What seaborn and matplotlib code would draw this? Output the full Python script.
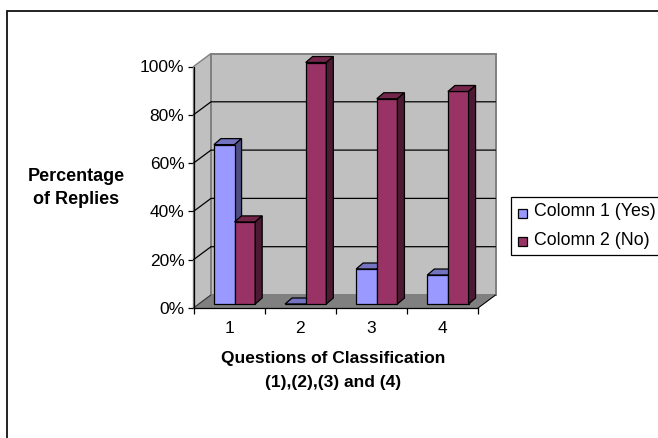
import matplotlib
matplotlib.use('Agg')
import matplotlib.pyplot as plt
from matplotlib.patches import Polygon, Rectangle
from matplotlib.ticker import PercentFormatter
import pandas as pd
import seaborn as sns

preguntas = ['1', '2', '3', '4']
col_si = [66, 0, 14.5, 12]
col_no = [34, 100, 85, 88]
nombres = ['Colomn 1 (Yes)', 'Colomn 2 (No)']
colores = ['#9999FF', '#993366']
oscuros = ['#4D4D80', '#4D1A33']
medios = ['#7373BF', '#732649']

W, H = 658, 438
X0, X1 = 193.5, 478.0   # plano frontal en pixeles
Y0, Y1 = 308.0, 66.5
DX, DY = 17.5, 13.0     # profundidad de las paredes

sns.set_theme(style='white')
plt.rcParams['font.family'] = ['Liberation Sans', 'DejaVu Sans']

df = pd.DataFrame({
    'pregunta': preguntas * 2,
    'serie': [nombres[0]] * 4 + [nombres[1]] * 4,
    'valor': col_si + col_no,
})

fig = plt.figure(figsize=(W / 100, H / 100), dpi=100)
fig.add_artist(Rectangle((6.5 / W, -0.01), 1, 1 - 11 / H + 0.01, transform=fig.transFigure,
                         fill=False, ec='#111111', lw=1.3))

ax = fig.add_axes([X0 / W, 1 - Y0 / H, (X1 - X0) / W, (Y0 - Y1) / H])
sns.barplot(data=df, x='pregunta', y='valor', hue='serie', palette=colores, width=0.58, gap=0,
            dodge=True, legend=False, ax=ax, edgecolor='black', linewidth=0.9, zorder=5, saturation=1)
ax.set_xlim(-0.5, 3.5)
ax.set_ylim(0, 100)

# pasar de pixeles a unidades de datos
ux = 4 / (X1 - X0)
uy = 100 / (Y0 - Y1)
dx, dy = DX * ux, DY * uy
ax.patch.set_visible(False)

# paredes y suelo
pared = '#C0C0C0'
gris = '#808080'
ax.add_patch(Polygon([(-0.5, 0), (-0.5 + dx, dy), (-0.5 + dx, 100 + dy), (-0.5, 100)], fc=pared, ec=gris, lw=1, zorder=1, clip_on=False))
ax.add_patch(Rectangle((-0.5 + dx, dy), 4, 100, fc=pared, ec=gris, lw=1.4, zorder=1, clip_on=False))
ax.add_patch(Polygon([(-0.5, 0), (3.5, 0), (3.5 + dx, dy), (-0.5 + dx, dy)], fc=gris, ec=gris, lw=0.8, zorder=2, clip_on=False))

# rejilla en la pared y en el lateral
for v in [20, 40, 60, 80]:
    ax.plot([-0.5, -0.5 + dx, 3.5 + dx], [v, v + dy, v + dy], color='black', lw=0.9, zorder=3, clip_on=False)
ax.plot([-0.5, -0.5 + dx], [0, dy], color='#333333', lw=0.7, zorder=3, clip_on=False)
ax.plot([3.5, 3.5 + dx], [0, dy], color='black', lw=0.7, zorder=3, clip_on=False)

# caras laterales de las barras
px, py = 7 * ux, 6 * uy
desplaza = 5.5 * ux
base = 4 * uy
for i, barra in enumerate(ax.patches[:8]):
    serie = i // 4
    barra.set_x(barra.get_x() + desplaza)
    barra.set_y(base)
    x0 = barra.get_x()
    x1 = x0 + barra.get_width()
    h = barra.get_height() + base
    barra.set_clip_on(False)
    ax.add_patch(Polygon([(x0, h), (x1, h), (x1 + px, h + py), (x0 + px, h + py)], fc=medios[serie], ec='black', lw=0.9, zorder=4 + serie, clip_on=False))
    if h > base:
        ax.add_patch(Polygon([(x1, base), (x1 + px, base + py), (x1 + px, h + py), (x1, h)], fc=oscuros[serie], ec='black', lw=0.9, zorder=4 + serie, clip_on=False))

# ejes
sns.despine(ax=ax, top=True, right=True)
for s in ['left', 'bottom']:
    ax.spines[s].set_color('black')
    ax.spines[s].set_linewidth(0.9)
    ax.spines[s].set_zorder(6)
ax.set_yticks(range(0, 101, 20))
ax.yaxis.set_major_formatter(PercentFormatter())
ax.set_xticks([-0.5, 0.5, 1.5, 2.5, 3.5])
ax.set_xticklabels([])
ax.set_xticks(range(4), preguntas, minor=True)
ax.tick_params(axis='x', which='major', bottom=True, length=4.5, width=0.9, color='black')
ax.tick_params(axis='x', which='minor', bottom=False, labelsize=12.5, pad=5.5, labelcolor='black')
ax.tick_params(axis='y', left=True, length=4.5, width=0.9, color='black', labelsize=12.5, pad=2, labelcolor='black')
ax.set_xlabel('')
ax.set_ylabel('')

fig.text(76 / W, 1 - 188 / H, 'Percentage\nof Replies', ha='center', va='center', fontsize=13, fontweight='bold', color='black', linespacing=1.45)
fig.text(333.5 / W, 1 - 371 / H, 'Questions of Classification\n(1),(2),(3) and (4)', ha='center', va='center', fontsize=12.5, fontweight='bold', color='black', linespacing=1.75)

# leyenda
fig.add_artist(Rectangle((511 / W, 1 - 255 / H), 160 / W, 58 / H, transform=fig.transFigure, fc='white', ec='black', lw=0.9, zorder=8))
for k, yp in enumerate([213, 241.5]):
    fig.add_artist(Rectangle((518 / W, 1 - (yp + 4.5) / H), 9 / W, 9 / H, transform=fig.transFigure, fc=colores[k], ec='black', lw=0.9, zorder=9))
    fig.text(534 / W, 1 - (yp - 1) / H, nombres[k], ha='left', va='center', fontsize=12.8, color='black', zorder=9)

fig.savefig('out.png', dpi=100)
